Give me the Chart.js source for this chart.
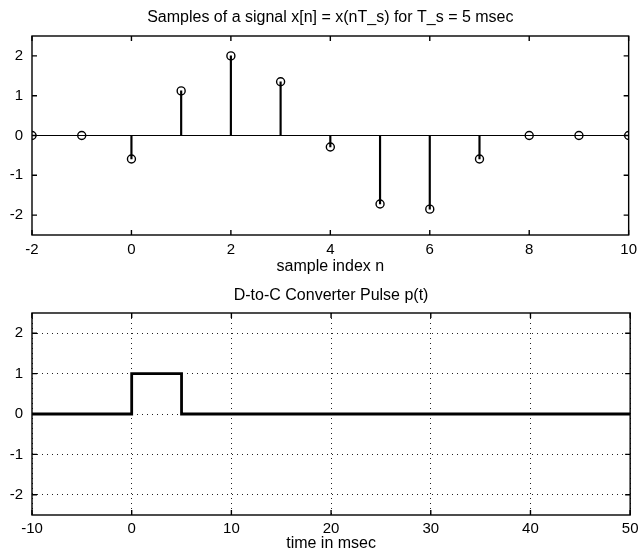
<!DOCTYPE html>
<html>
<head>
<meta charset="utf-8">
<script src="https://cdn.jsdelivr.net/npm/chart.js@4/dist/chart.umd.min.js"></script>
<style>
  html, body { margin: 0; padding: 0; background: #fff; }
  #wrap { position: relative; width: 643px; height: 555px; }
  canvas { position: absolute; left: 0; }
  #c1 { top: 0; }
  #c2 { top: 280px; }
</style>
</head>
<body>
<div id="wrap">
  <canvas id="c1" width="643" height="280"></canvas>
  <canvas id="c2" width="643" height="275"></canvas>
</div>
<script>
// top plot: samples x[n]
var sampleIdx = [-2, -1, 0, 1, 2, 3, 4, 5, 6, 7, 8, 9, 10];
var sampleVal = [0, 0, -0.59, 1.12, 2, 1.35, -0.29, -1.72, -1.85, -0.59, 0, 0, 0];
var xTicksTop = [-2, 0, 2, 4, 6, 8, 10];

// bottom plot: pulse p(t)
var pulseT = [-10, 0, 0, 5, 5, 50];
var pulseP = [0, 0, 1, 1, 0, 0];
var xTicksBottom = [-10, 0, 10, 20, 30, 40, 50];

var yTicks = [-2, -1, 0, 1, 2];

var FONT = "'Liberation Sans', Arial, Helvetica, sans-serif";
var INK = '#000';

// frame + inward tick marks like matlab
var framePlugin = {
    id: 'frame',
    afterDatasetsDraw: function (chart) {
        var ctx = chart.ctx;
        var a = chart.chartArea;
        var xs = chart.scales.x, ys = chart.scales.y;
        var len = 5;
        ctx.save();
        ctx.strokeStyle = INK;
        ctx.lineWidth = 1.4;
        ctx.strokeRect(a.left, a.top, a.right - a.left, a.bottom - a.top);
        ctx.beginPath();
        xs.ticks.forEach(function (t) {
            var px = xs.getPixelForValue(t.value);
            ctx.moveTo(px, a.bottom); ctx.lineTo(px, a.bottom - len);
            ctx.moveTo(px, a.top); ctx.lineTo(px, a.top + len);
        });
        ys.ticks.forEach(function (t) {
            var py = ys.getPixelForValue(t.value);
            ctx.moveTo(a.left, py); ctx.lineTo(a.left + len, py);
            ctx.moveTo(a.right, py); ctx.lineTo(a.right - len, py);
        });
        ctx.stroke();
        ctx.restore();
    }
};

function keepTicks(list) {
    return function (scale) {
        scale.ticks = list.map(function (v) { return { value: v }; });
    };
}

function axes(xMin, xMax, xList, xTitle, grid, xHeight, tickPad, titlePad) {
    var gridOpts = grid
        ? { display: true, drawTicks: false, color: '#222', lineWidth: 1 }
        : { display: false, drawTicks: false };
    return {
        x: {
            type: 'linear', min: xMin, max: xMax, offset: false,
            afterBuildTicks: keepTicks(xList),
            afterFit: function (s) { s.height = xHeight; },
            grid: gridOpts,
            border: { display: false, dash: [1, 4] },
            ticks: { color: INK, padding: tickPad, maxRotation: 0, autoSkip: false,
                     font: { family: FONT, size: 15 } },
            title: { display: true, text: xTitle, color: INK,
                     padding: { top: 0, bottom: titlePad },
                     font: { family: FONT, size: 16 } }
        },
        y: {
            type: 'linear', min: -2.5, max: 2.5,
            afterBuildTicks: keepTicks(yTicks),
            afterFit: function (s) { s.width = 32; },
            grid: gridOpts,
            border: { display: false, dash: [1, 4] },
            ticks: { color: INK, padding: 9, font: { family: FONT, size: 15 } }
        }
    };
}

var samples = sampleIdx.map((n, i) => ({ x: n, y: sampleVal[i] }));
var baseline = [
    { x: sampleIdx[0], y: 0 },
    { x: sampleIdx[sampleIdx.length - 1], y: 0 }
];

new Chart(document.getElementById('c1'), {
    type: 'scatter',
    data: {
        datasets: [
            {
                type: 'line', data: baseline, borderColor: INK, borderWidth: 1.2,
                pointRadius: 0, fill: false
            },
            {
                type: 'bar', data: samples, backgroundColor: INK,
                barThickness: 1.5, borderWidth: 0
            },
            {
                type: 'scatter', data: samples, pointStyle: 'circle', pointRadius: 4,
                borderColor: INK, borderWidth: 1.4, backgroundColor: 'rgba(0,0,0,0)'
            }
        ]
    },
    options: {
        responsive: false,
        animation: false,
        events: [],
        layout: { padding: { left: 0, right: 11, top: 0, bottom: 0 } },
        plugins: {
            legend: { display: false },
            tooltip: { enabled: false },
            title: {
                display: true, color: INK, fullSize: false,
                text: 'Samples of a signal x[n] = x(nT_s) for T_s = 5 msec',
                font: { family: FONT, size: 16, weight: 'normal' },
                padding: { top: 8.4, bottom: 8.4 }
            }
        },
        scales: axes(-2, 10, xTicksTop, 'sample index n', false, 45, 6, 3.4)
    },
    plugins: [framePlugin]
});

var pulse = pulseT.map((t, i) => ({ x: t, y: pulseP[i] }));

new Chart(document.getElementById('c2'), {
    type: 'scatter',
    data: {
        datasets: [{
            type: 'line', data: pulse, borderColor: INK, borderWidth: 2.8,
            pointRadius: 0, fill: false, tension: 0
        }]
    },
    options: {
        responsive: false,
        animation: false,
        events: [],
        layout: { padding: { left: 0, right: 11, top: 0, bottom: 0 } },
        plugins: {
            legend: { display: false },
            tooltip: { enabled: false },
            title: {
                display: true, color: INK, fullSize: false,
                text: 'D-to-C Converter Pulse p(t)',
                font: { family: FONT, size: 16, weight: 'normal' },
                padding: { top: 6.4, bottom: 7.4 }
            }
        },
        scales: axes(-10, 50, xTicksBottom, 'time in msec', true, 40, 4.5, 1.4)
    },
    plugins: [framePlugin]
});
</script>
</body>
</html>
